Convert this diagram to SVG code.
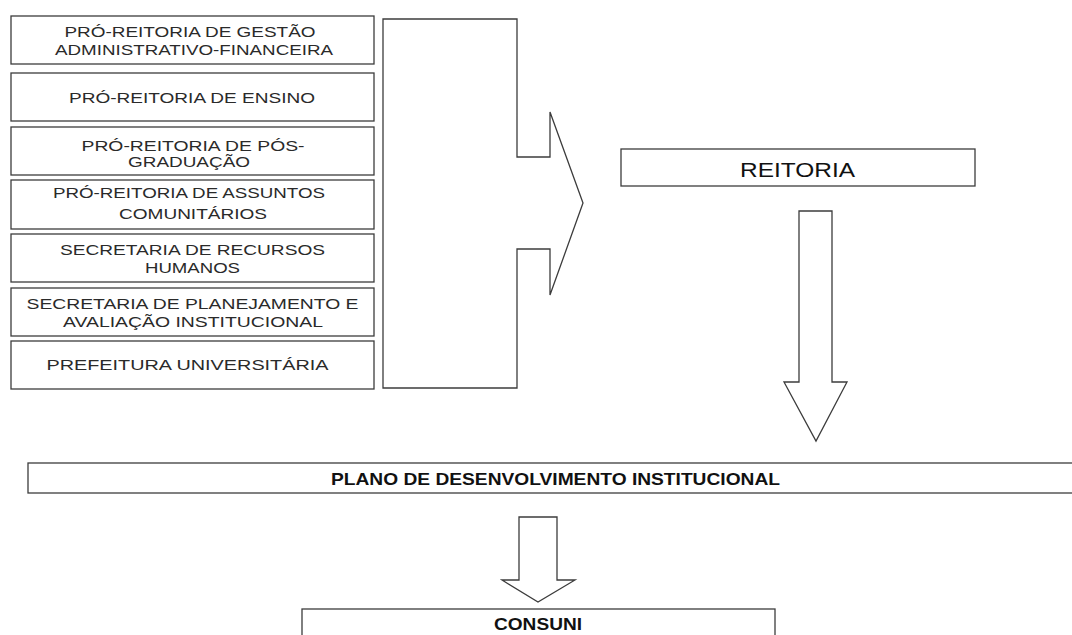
<svg xmlns="http://www.w3.org/2000/svg" width="1072" height="635" viewBox="0 0 1072 635">
<style>
.box{fill:#fff;stroke:#3c3c3c;stroke-width:1.3}
.arr{fill:#fff;stroke:#3c3c3c;stroke-width:1.3;stroke-linejoin:miter}
.t{font-family:"Liberation Sans",Arial,sans-serif;font-size:15px;fill:#2a2a2a;text-anchor:middle}
.tr{font-family:"Liberation Sans",Arial,sans-serif;font-size:21px;fill:#111}
.tb{font-family:"Liberation Sans",Arial,sans-serif;font-size:16.5px;font-weight:bold;fill:#111}
</style>
<rect width="1072" height="635" fill="#fff"/>
<g id="connectors">
<path class="arr" d="M383,19 L517,19 L517,157 L550,157 L550,112 L583,203 L550,295 L550,249 L517,249 L517,388 L383,388 Z"/>
<path class="arr" d="M799,211 L832,211 L832,382 L847,382 L816,441 L784,382 L799,382 Z"/>
<path class="arr" d="M519,517 L557,517 L557,580 L575,580 L538,602 L502,580 L519,580 Z"/>
</g>
<g id="n1"><rect class="box" x="11" y="16" width="363" height="48"/>
<text class="t" x="190" y="37" textLength="251" lengthAdjust="spacingAndGlyphs">PRÓ-REITORIA DE GESTÃO</text>
<text class="t" x="194" y="55" textLength="278" lengthAdjust="spacingAndGlyphs">ADMINISTRATIVO-FINANCEIRA</text></g>
<g id="n2"><rect class="box" x="11" y="73" width="363" height="48"/>
<text class="t" x="192" y="103" textLength="246" lengthAdjust="spacingAndGlyphs">PRÓ-REITORIA DE ENSINO</text></g>
<g id="n3"><rect class="box" x="11" y="127" width="363" height="48"/>
<text class="t" x="193" y="151" textLength="223" lengthAdjust="spacingAndGlyphs">PRÓ-REITORIA DE PÓS-</text>
<text class="t" x="189" y="167" textLength="122" lengthAdjust="spacingAndGlyphs">GRADUAÇÃO</text></g>
<g id="n4"><rect class="box" x="11" y="180" width="363" height="49"/>
<text class="t" x="189" y="198" textLength="272" lengthAdjust="spacingAndGlyphs">PRÓ-REITORIA DE ASSUNTOS</text>
<text class="t" x="193" y="219" textLength="148" lengthAdjust="spacingAndGlyphs">COMUNITÁRIOS</text></g>
<g id="n5"><rect class="box" x="11" y="234" width="363" height="48"/>
<text class="t" x="192.5" y="254.5" textLength="265" lengthAdjust="spacingAndGlyphs">SECRETARIA DE RECURSOS</text>
<text class="t" x="192.5" y="272.5" textLength="95" lengthAdjust="spacingAndGlyphs">HUMANOS</text></g>
<g id="n6"><rect class="box" x="11" y="288" width="363" height="48"/>
<text class="t" x="192.5" y="308.5" textLength="332" lengthAdjust="spacingAndGlyphs">SECRETARIA DE PLANEJAMENTO E</text>
<text class="t" x="193" y="327" textLength="260" lengthAdjust="spacingAndGlyphs">AVALIAÇÃO INSTITUCIONAL</text></g>
<g id="n7"><rect class="box" x="11" y="341" width="363" height="48"/>
<text class="t" x="187.5" y="370" textLength="282" lengthAdjust="spacingAndGlyphs">PREFEITURA UNIVERSITÁRIA</text></g>
<g id="reitoria"><rect class="box" x="621" y="149" width="354" height="37"/>
<text class="tr" x="740" y="177" textLength="115" lengthAdjust="spacingAndGlyphs">REITORIA</text></g>
<g id="pdi"><rect class="box" x="28" y="463" width="1050" height="30"/>
<text class="tb" x="331" y="484.5" textLength="449" lengthAdjust="spacingAndGlyphs">PLANO DE DESENVOLVIMENTO INSTITUCIONAL</text></g>
<g id="consuni"><rect class="box" x="302" y="609" width="473" height="40"/>
<text class="tb" x="494" y="630" textLength="88" lengthAdjust="spacingAndGlyphs">CONSUNI</text></g>
</svg>
